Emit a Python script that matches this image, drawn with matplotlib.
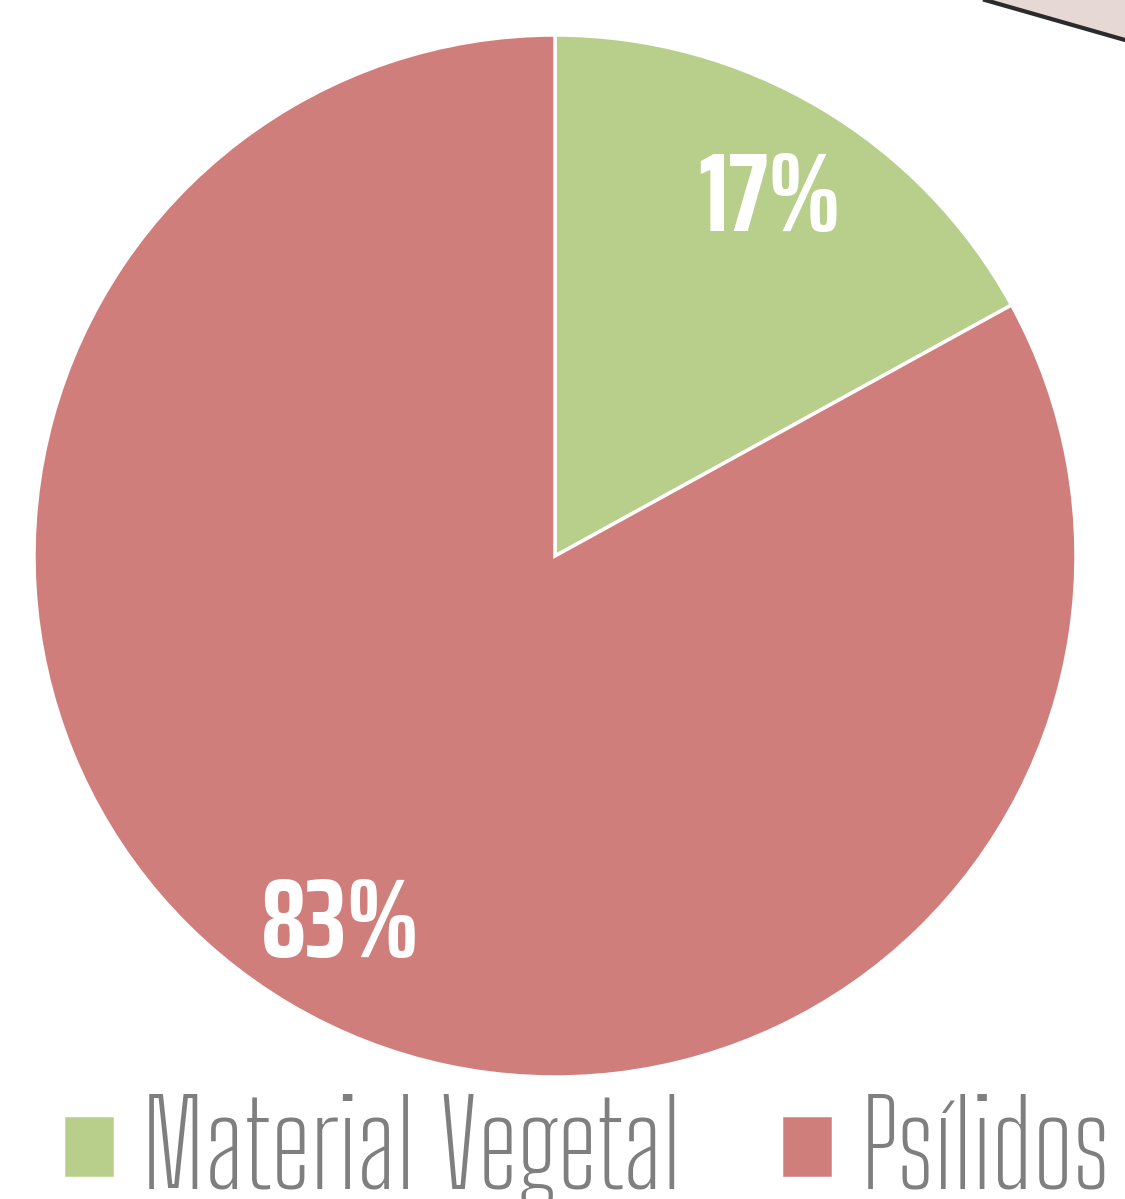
import matplotlib.pyplot as plt
from matplotlib.patches import Polygon

categories = ["Material Vegetal", "Psílidos"]
shares = [17, 83]
colors = ["#B8CF8B", "#D07E7B"]

condensed = ["Big Shoulders Text", "Big Shoulders", "Saira ExtraCondensed", "DejaVu Sans"]
condensed_bold = ["Saira ExtraCondensed", "Teko", "Big Shoulders", "DejaVu Sans"]

fig = plt.figure(figsize=(11.25, 11.99), dpi=100)
ax = fig.add_axes([34 / 1125, 122 / 1199, 1042 / 1125, 1042 / 1199])

wedges, texts, autotexts = ax.pie(
    shares,
    colors=colors,
    startangle=90,
    counterclock=False,
    radius=1,
    autopct="%d%%",
    pctdistance=0.81,
    wedgeprops=dict(edgecolor="white", linewidth=2.5),
    textprops=dict(color="white", fontsize=81, fontweight="bold", family=condensed_bold),
)
# labels sit a little lower in the original
for t in autotexts:
    x, y = t.get_position()
    t.set_position((x, y - 0.014))

ax.set_xlim(-1, 1)
ax.set_ylim(-1, 1)
ax.set_aspect("equal")

# fragment of the neighbouring graphic in the top-right corner
corner = Polygon([(985 / 1125, 1), (1, 1), (1, 1 - 40 / 1199)], closed=True,
                 transform=fig.transFigure, facecolor="#E6D8D4", edgecolor="none")
fig.add_artist(corner)
fig.add_artist(plt.Line2D([985 / 1125, 1], [1, 1 - 40 / 1199], transform=fig.transFigure,
                          color="#2B2B2B", linewidth=3))

leg = fig.legend(
    wedges, categories,
    loc="lower center", bbox_to_anchor=(0.521, -0.1),
    ncol=2, frameon=False,
    prop=dict(family=condensed, size=85),
    labelcolor="#7F7F7F",
    handlelength=0.44, handleheight=0.44,
    handletextpad=0.22, columnspacing=0.85,
)

fig.savefig("out.png", dpi=100)
